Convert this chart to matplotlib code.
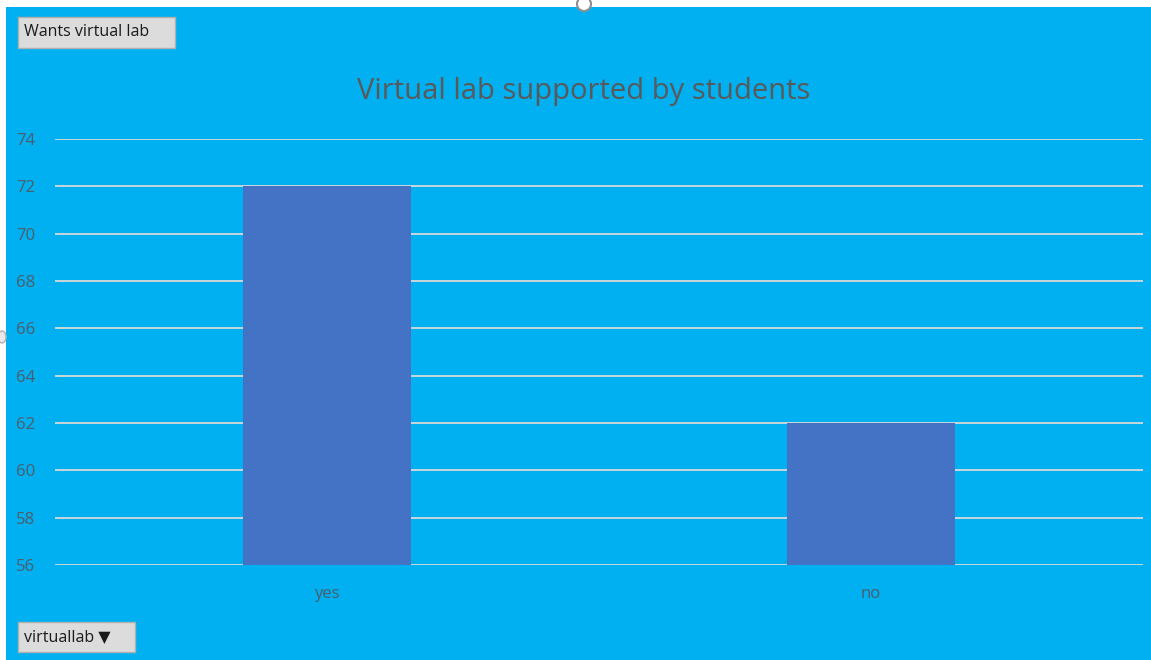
import matplotlib.pyplot as plt
from matplotlib.patches import Rectangle, Ellipse

# data
categories = ["yes", "no"]
values = [72, 62]
y_ticks = [56, 58, 60, 62, 64, 66, 68, 70, 72, 74]

W, H = 1151, 660
bg = "#00B0F0"
txt = "#4D5D6B"

plt.rcParams['font.family'] = ['Open Sans', 'DejaVu Sans']

fig = plt.figure(figsize=(W / 100, H / 100), dpi=100, facecolor="white")

# blue chart area (white strip on top/left like the screenshot)
fig.patches.append(Rectangle((6 / W, 0), 1 - 6 / W, 1 - 7 / H, transform=fig.transFigure,
                             facecolor=bg, edgecolor="none", zorder=-5))

ax = fig.add_axes([55 / W, 1 - 565 / H, (1143 - 55) / W, (565 - 139) / H])
ax.set_zorder(2)
ax.set_facecolor("none")
ax.bar(range(len(categories)), values, width=0.31, color="#4472C4", zorder=3)
ax.set_xlim(-0.5, 1.5)
ax.set_ylim(56, 74)
ax.set_yticks(y_ticks)
ax.set_xticks(range(len(categories)))
ax.set_xticklabels(categories)
ax.yaxis.grid(True, color="#D9D9D9", linewidth=1.3, zorder=1)
ax.set_axisbelow(True)
ax.tick_params(axis="both", length=0, colors=txt, labelsize=12)
ax.tick_params(axis="y", pad=14)
ax.tick_params(axis="x", pad=15)
for s in ax.spines.values():
    s.set_visible(False)

fig.text(584 / W, 1 - 91 / H, "Virtual lab supported by students", ha="center", va="center",
         fontsize=21, color="#595959")

# field buttons
def button(x0, y0, x1, y1, label):
    fig.patches.append(Rectangle((x0 / W, 1 - y1 / H), (x1 - x0) / W, (y1 - y0) / H,
                                 transform=fig.transFigure, facecolor="#DCDCDC",
                                 edgecolor="#B0B0B0", linewidth=1, zorder=3))
    fig.text((x0 + 6) / W, 1 - (y0 + y1) / 2 / H, label, ha="left", va="center",
             fontsize=11.5, color="#1A1A1A", zorder=4)

button(18, 17, 175, 48, "Wants virtual lab")
button(18, 622, 135, 652, "virtuallab \u25BC")

# selection handles
fig.patches.append(Ellipse((584 / W, 1 - 4 / H), 14 / W, 14 / H, transform=fig.transFigure,
                           facecolor="white", edgecolor="#909090", linewidth=1.5, zorder=5))
fig.patches.append(Ellipse((2 / W, 1 - 337 / H), 8 / W, 12 / H, transform=fig.transFigure,
                           facecolor="#E8E8E8", edgecolor="#B0B0B0", linewidth=1, zorder=5))

fig.savefig("out.png", dpi=100, facecolor="white")
